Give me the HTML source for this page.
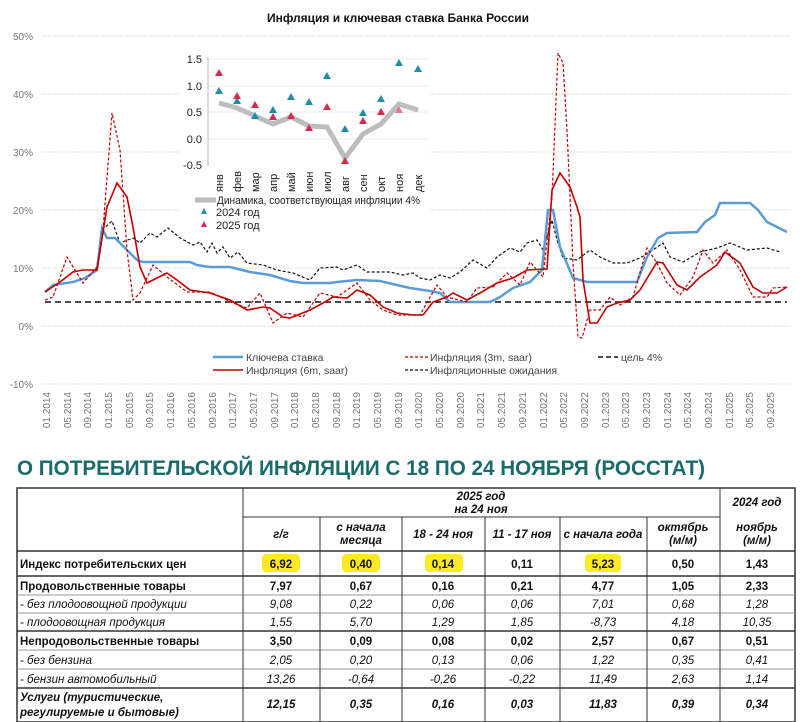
<!DOCTYPE html>
<html><head><meta charset="utf-8"><style>
body{margin:0;background:#fff;width:800px;height:722px;overflow:hidden}
svg{display:block}
.ax{font-family:"Liberation Sans",sans-serif;font-size:10px;fill:#777}
.lg{font-family:"Liberation Sans Narrow","Liberation Sans",sans-serif;font-size:10.5px;fill:#444}
.in{font-family:"Liberation Sans",sans-serif;font-size:11px;fill:#222}
.t{font-family:"Liberation Sans",sans-serif;font-size:11.5px;fill:#111}
.b{font-weight:bold}.i{font-style:italic}
</style></head><body>
<svg width="800" height="722" viewBox="0 0 800 722">
<text x="398" y="22" text-anchor="middle" font-family="Liberation Sans,sans-serif" font-weight="bold" font-size="12" fill="#111">Инфляция и ключевая ставка Банка России</text>
<g stroke="#ddd" stroke-width="1" stroke-dasharray="2,1">
<line x1="42" y1="36" x2="790" y2="36"/><line x1="42" y1="94" x2="790" y2="94"/><line x1="42" y1="152" x2="790" y2="152"/><line x1="42" y1="210" x2="790" y2="210"/><line x1="42" y1="268" x2="790" y2="268"/><line x1="42" y1="326" x2="790" y2="326"/><line x1="42" y1="384" x2="790" y2="384"/>
</g>
<g class="ax" text-anchor="end">
<text x="33" y="40">50%</text><text x="33" y="98">40%</text><text x="33" y="156">30%</text><text x="33" y="214">20%</text><text x="33" y="272">10%</text><text x="33" y="330">0%</text><text x="33" y="388">-10%</text>
</g>
<line x1="45" y1="302" x2="787" y2="302" stroke="#111" stroke-width="1.5" stroke-dasharray="6,4"/>
<polyline fill="none" stroke="#111" stroke-width="1.2" stroke-dasharray="3,2" points="102,230 112,221 120,243 133,238 140,243 150,233 157,237 168,228 180,238 193,245 200,242 207,252 212,243 217,253 223,247 230,258 238,252 247,263 263,265 277,270 293,273 310,280 320,268 337,267 343,270 357,265 367,272 390,272 403,275 413,273 420,278 430,280 440,275 450,278 460,272 473,260 487,268 497,257 510,248 520,252 527,243 537,240 543,250 552,220 557,240 563,258 577,260 590,250 600,257 613,263 627,263 640,258 653,250 663,243 670,257 683,262 700,252 717,248 730,243 747,250 767,248 780,252"/>
<polyline fill="none" stroke="#5b9bd5" stroke-width="2.5" points="45,292 53,285 73,282 85,278 97,270 102,228 107,238 115,238 127,250 137,260 143,262 190,262 197,265 210,267 230,267 250,272 270,275 290,281 303,283 330,283 337,282 357,280 380,281 397,285 410,288 430,291 440,293 450,302 490,302 500,297 513,288 530,282 542,270 548,210 553,210 560,247 573,278 587,282 637,282 647,257 658,238 667,233 697,232 705,222 715,215 720,203 750,203 758,210 767,222 787,232"/>
<polyline fill="none" stroke="#c00000" stroke-width="1.2" stroke-dasharray="3,2" points="45,300 53,297 67,257 83,283 97,267 103,230 112,113 120,150 127,250 133,300 140,293 153,265 167,277 187,292 210,292 233,303 247,308 260,293 273,323 287,313 303,317 320,293 337,297 357,283 370,300 383,310 397,315 420,315 437,285 447,297 467,302 477,288 493,287 507,273 520,285 530,262 543,277 552,197 558,53 563,63 567,130 573,263 578,337 582,338 590,310 600,310 610,297 620,305 633,297 647,248 657,263 667,283 680,295 693,277 703,250 713,263 727,250 740,270 753,297 767,297 773,288 787,287"/>
<polyline fill="none" stroke="#c00000" stroke-width="1.6" points="45,292 60,282 73,272 83,270 97,270 107,207 117,183 127,197 133,227 140,267 147,283 157,278 167,273 177,280 190,290 210,293 230,300 247,310 263,307 270,308 283,317 290,318 310,310 323,303 333,297 347,298 357,290 370,295 383,307 397,313 413,315 423,315 433,302 447,297 453,293 467,300 480,293 497,283 513,278 527,270 547,269 552,190 560,173 570,187 577,207 580,217 583,280 590,323 597,323 607,307 617,303 630,300 640,290 657,262 663,263 677,285 687,290 700,277 717,265 725,252 740,263 753,287 763,293 777,293 787,287"/>
<rect x="180" y="45" width="250" height="188" fill="#fff"/>
<g stroke="#e6e6e6" stroke-dasharray="2,1"><line x1="208" y1="59" x2="428" y2="59"/><line x1="208" y1="86" x2="428" y2="86"/><line x1="208" y1="112" x2="428" y2="112"/><line x1="208" y1="139" x2="428" y2="139"/></g>
<line x1="208" y1="57" x2="208" y2="166" stroke="#bbb"/>
<g class="in" text-anchor="end"><text x="202" y="63">1.5</text><text x="202" y="90">1.0</text><text x="202" y="116">0.5</text><text x="202" y="143">0.0</text><text x="202" y="169">-0.5</text></g>
<polyline fill="none" stroke="#bdbdbd" stroke-width="5" points="219,103 237,108 255,116 273,124 291,117 309,126 327,127 345,158 363,134 381,124 399,104 418,110"/>
<g fill="#1f8ca8">
<path d="M219,87l-4,7h8z"/><path d="M237,97l-4,7h8z"/><path d="M255,112l-4,7h8z"/><path d="M273,106l-4,7h8z"/><path d="M291,93l-4,7h8z"/><path d="M309,98l-4,7h8z"/><path d="M327,72l-4,7h8z"/><path d="M345,125l-4,7h8z"/><path d="M363,109l-4,7h8z"/><path d="M381,95l-4,7h8z"/><path d="M399,59l-4,7h8z"/><path d="M418,65l-4,7h8z"/>
</g>
<g fill="#d42a4e">
<path d="M219,69l-4,7h8z"/><path d="M237,92l-4,7h8z"/><path d="M255,101l-4,7h8z"/><path d="M273,113l-4,7h8z"/><path d="M291,112l-4,7h8z"/><path d="M309,124l-4,7h8z"/><path d="M327,103l-4,7h8z"/><path d="M345,157l-4,7h8z"/><path d="M363,117l-4,7h8z"/><path d="M381,108l-4,7h8z"/><path d="M399,106l-4,7h8z" fill="#e8788a"/>
</g>
<g class="in" font-size="10.5">
<text transform="translate(223,192) rotate(-90)">янв</text><text transform="translate(241,192) rotate(-90)">фев</text><text transform="translate(259,192) rotate(-90)">мар</text><text transform="translate(277,192) rotate(-90)">апр</text><text transform="translate(295,192) rotate(-90)">май</text><text transform="translate(313,192) rotate(-90)">июн</text><text transform="translate(331,192) rotate(-90)">июл</text><text transform="translate(349,192) rotate(-90)">авг</text><text transform="translate(367,192) rotate(-90)">сен</text><text transform="translate(385,192) rotate(-90)">окт</text><text transform="translate(403,192) rotate(-90)">ноя</text><text transform="translate(422,192) rotate(-90)">дек</text>
</g>
<line x1="195" y1="200" x2="216" y2="200" stroke="#bdbdbd" stroke-width="5"/>
<text class="in" x="217" y="204" font-size="10.5" textLength="203" lengthAdjust="spacingAndGlyphs">Динамика,  соответствующая инфляции  4%</text>
<path d="M204,208l-3,6h6z" fill="#1f8ca8"/><text class="in" x="216" y="216" font-size="10.5">2024 год</text>
<path d="M204,221l-3,6h6z" fill="#d42a4e"/><text class="in" x="216" y="229" font-size="10.5">2025 год</text>
<line x1="213" y1="357" x2="243" y2="357" stroke="#5b9bd5" stroke-width="2.5"/><text class="lg" x="246" y="361">Ключева ставка</text>
<line x1="213" y1="370" x2="243" y2="370" stroke="#c00000" stroke-width="1.6"/><text class="lg" x="246" y="374">Инфляция (6m, saar)</text>
<line x1="405" y1="357" x2="428" y2="357" stroke="#c00000" stroke-width="1.2" stroke-dasharray="3,2"/><text class="lg" x="430" y="361">Инфляция (3m, saar)</text>
<line x1="405" y1="370" x2="428" y2="370" stroke="#111" stroke-width="1.2" stroke-dasharray="3,2"/><text class="lg" x="430" y="374">Инфляционные ожидания</text>
<line x1="598" y1="357" x2="618" y2="357" stroke="#111" stroke-width="1.5" stroke-dasharray="5,3"/><text class="lg" x="621" y="361">цель 4%</text>
<g class="ax" font-size="9.5" text-anchor="end">
<text transform="translate(50,392) rotate(-90)">01.2014</text><text transform="translate(71,392) rotate(-90)">05.2014</text><text transform="translate(91,392) rotate(-90)">09.2014</text><text transform="translate(112,392) rotate(-90)">01.2015</text><text transform="translate(133,392) rotate(-90)">05.2015</text><text transform="translate(153,392) rotate(-90)">09.2015</text><text transform="translate(174,392) rotate(-90)">01.2016</text><text transform="translate(195,392) rotate(-90)">05.2016</text><text transform="translate(216,392) rotate(-90)">09.2016</text><text transform="translate(236,392) rotate(-90)">01.2017</text><text transform="translate(257,392) rotate(-90)">05.2017</text><text transform="translate(278,392) rotate(-90)">09.2017</text><text transform="translate(298,392) rotate(-90)">01.2018</text><text transform="translate(319,392) rotate(-90)">05.2018</text><text transform="translate(340,392) rotate(-90)">09.2018</text><text transform="translate(360,392) rotate(-90)">01.2019</text><text transform="translate(381,392) rotate(-90)">05.2019</text><text transform="translate(402,392) rotate(-90)">09.2019</text><text transform="translate(422,392) rotate(-90)">01.2020</text><text transform="translate(443,392) rotate(-90)">05.2020</text><text transform="translate(464,392) rotate(-90)">09.2020</text><text transform="translate(484,392) rotate(-90)">01.2021</text><text transform="translate(505,392) rotate(-90)">05.2021</text><text transform="translate(526,392) rotate(-90)">09.2021</text><text transform="translate(547,392) rotate(-90)">01.2022</text><text transform="translate(567,392) rotate(-90)">05.2022</text><text transform="translate(588,392) rotate(-90)">09.2022</text><text transform="translate(609,392) rotate(-90)">01.2023</text><text transform="translate(629,392) rotate(-90)">05.2023</text><text transform="translate(650,392) rotate(-90)">09.2023</text><text transform="translate(671,392) rotate(-90)">01.2024</text><text transform="translate(691,392) rotate(-90)">05.2024</text><text transform="translate(712,392) rotate(-90)">09.2024</text><text transform="translate(733,392) rotate(-90)">01.2025</text><text transform="translate(753,392) rotate(-90)">05.2025</text><text transform="translate(774,392) rotate(-90)">09.2025</text>
</g>
<text x="17" y="475" font-family="Liberation Sans Narrow,Liberation Sans,sans-serif" font-weight="bold" font-size="21" fill="#1b6b6b" textLength="688" lengthAdjust="spacingAndGlyphs">О ПОТРЕБИТЕЛЬСКОЙ ИНФЛЯЦИИ С 18 ПО 24 НОЯБРЯ (РОССТАТ)</text>
<g fill="#ffe600" opacity="0.85">
<rect x="262" y="554" width="38" height="18" rx="4"/><rect x="342" y="554" width="38" height="18" rx="4"/><rect x="425" y="554" width="38" height="18" rx="4"/><rect x="585" y="554" width="36" height="18" rx="4"/>
</g>
<g stroke="#333" stroke-width="1" fill="none">
<rect x="17" y="488" width="778" height="234" stroke-width="1.5"/>
<line x1="243" y1="517" x2="720" y2="517"/>
<line x1="17" y1="551" x2="795" y2="551" stroke-width="1.5"/>
<line x1="17" y1="576" x2="795" y2="576" stroke-width="1.5"/>
<line x1="17" y1="595" x2="795" y2="595" stroke="#999"/>
<line x1="17" y1="613" x2="795" y2="613" stroke="#999"/>
<line x1="17" y1="631" x2="795" y2="631" stroke-width="1.5"/>
<line x1="17" y1="650" x2="795" y2="650" stroke="#999"/>
<line x1="17" y1="669" x2="795" y2="669" stroke="#999"/>
<line x1="17" y1="688" x2="795" y2="688" stroke-width="1.5"/>
<line x1="243" y1="488" x2="243" y2="722"/><line x1="720" y1="488" x2="720" y2="722"/>
<line x1="320" y1="517" x2="320" y2="722"/><line x1="402" y1="517" x2="402" y2="722"/><line x1="485" y1="517" x2="485" y2="722"/><line x1="560" y1="517" x2="560" y2="722"/><line x1="647" y1="517" x2="647" y2="722"/>
</g>
<g class="t b i" font-size="10" text-anchor="middle">
<text x="481" y="500">2025 год</text><text x="481" y="513">на 24 ноя</text><text x="757" y="506">2024 год</text>
<text x="281" y="538">г/г</text><text x="361" y="531">с начала</text><text x="361" y="544">месяца</text><text x="443" y="538">18 - 24 ноя</text><text x="522" y="538">11 - 17 ноя</text><text x="603" y="538">с начала года</text><text x="683" y="531">октябрь</text><text x="683" y="544">(м/м)</text><text x="757" y="531">ноябрь</text><text x="757" y="544">(м/м)</text>
</g>
<g class="t b" text-anchor="start"><text x="20" y="568">Индекс потребительских цен</text><text x="20" y="590">Продовольственные товары</text><text x="20" y="645">Непродовольственные товары</text></g>
<g class="t i" font-size="11" fill="#222"><text x="20" y="608">- без плодоовощной продукции</text><text x="20" y="626">- плодоовощная продукция</text><text x="20" y="664">- без бензина</text><text x="20" y="683">- бензин автомобильный</text></g>
<g class="t b i"><text x="20" y="701">Услуги (туристические,</text><text x="20" y="716">регулируемые и бытовые)</text></g>
<g class="t b" text-anchor="middle">
<text x="281" y="568">6,92</text><text x="361" y="568">0,40</text><text x="443" y="568">0,14</text><text x="522" y="568">0,11</text><text x="603" y="568">5,23</text><text x="683" y="568">0,50</text><text x="757" y="568">1,43</text>
<text x="281" y="590">7,97</text><text x="361" y="590">0,67</text><text x="443" y="590">0,16</text><text x="522" y="590">0,21</text><text x="603" y="590">4,77</text><text x="683" y="590">1,05</text><text x="757" y="590">2,33</text>
<text x="281" y="645">3,50</text><text x="361" y="645">0,09</text><text x="443" y="645">0,08</text><text x="522" y="645">0,02</text><text x="603" y="645">2,57</text><text x="683" y="645">0,67</text><text x="757" y="645">0,51</text>
</g>
<g class="t i" font-size="11" text-anchor="middle" fill="#222">
<text x="281" y="608">9,08</text><text x="361" y="608">0,22</text><text x="443" y="608">0,06</text><text x="522" y="608">0,06</text><text x="603" y="608">7,01</text><text x="683" y="608">0,68</text><text x="757" y="608">1,28</text>
<text x="281" y="626">1,55</text><text x="361" y="626">5,70</text><text x="443" y="626">1,29</text><text x="522" y="626">1,85</text><text x="603" y="626">-8,73</text><text x="683" y="626">4,18</text><text x="757" y="626">10,35</text>
<text x="281" y="664">2,05</text><text x="361" y="664">0,20</text><text x="443" y="664">0,13</text><text x="522" y="664">0,06</text><text x="603" y="664">1,22</text><text x="683" y="664">0,35</text><text x="757" y="664">0,41</text>
<text x="281" y="683">13,26</text><text x="361" y="683">-0,64</text><text x="443" y="683">-0,26</text><text x="522" y="683">-0,22</text><text x="603" y="683">11,49</text><text x="683" y="683">2,63</text><text x="757" y="683">1,14</text>
</g>
<g class="t b i" text-anchor="middle">
<text x="281" y="708">12,15</text><text x="361" y="708">0,35</text><text x="443" y="708">0,16</text><text x="522" y="708">0,03</text><text x="603" y="708">11,83</text><text x="683" y="708">0,39</text><text x="757" y="708">0,34</text>
</g>
</svg>
</body></html>
